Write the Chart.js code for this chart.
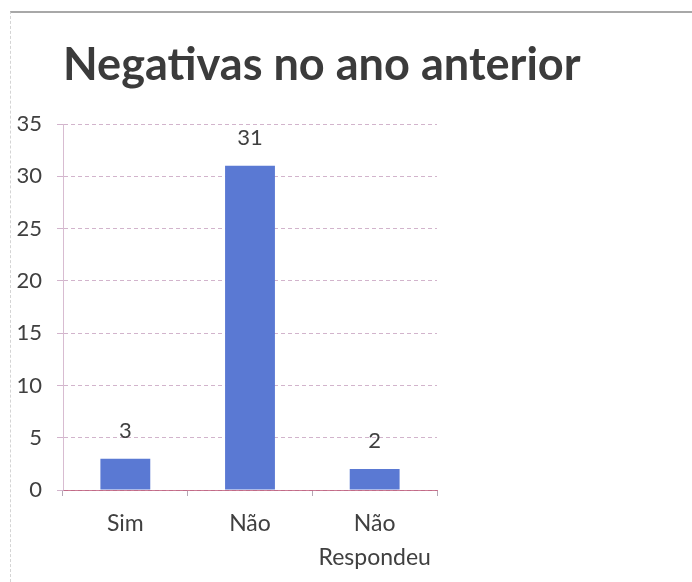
<!DOCTYPE html>
<html>
<head>
<meta charset="utf-8">
<title>Negativas no ano anterior</title>
<script src="https://cdn.jsdelivr.net/npm/chart.js@4"></script>
<style>
  html, body { margin: 0; padding: 0; background: #fff; }
  #wrap { position: relative; width: 692px; height: 582px; }
  #frame {
    position: absolute; left: 10px; top: 11px; right: 0; bottom: 0;
    border-top: 2px solid #a8a8a8;
    border-left: 1px dashed #d4d4d4;
  }
  canvas { position: absolute; left: 0; top: 0; }
</style>
</head>
<body>
<div id="wrap">
  <div id="frame"></div>
  <canvas id="chart" width="692" height="582"></canvas>
</div>
<script>
// chart data
const categories = ["Sim", "Não", ["Não", "Respondeu"]];
const values = [3, 31, 2];
const yTicks = [0, 5, 10, 15, 20, 25, 30, 35];

const titleText = "Negativas no ano anterior";
const fontFamily = "Lato, 'Open Sans', sans-serif";
const textColor = "#404040";
const gridColor = "rgba(180, 130, 170, 0.6)";

// title drawn at the left of the plot area, sized to the reference width
const chartTitle = {
  id: "chartTitle",
  afterDraw(chart) {
    const ctx = chart.ctx;
    ctx.save();
    ctx.font = "bold 100px " + fontFamily;
    const size = (518 / ctx.measureText(titleText).width) * 100;
    ctx.font = "bold " + size.toFixed(1) + "px " + fontFamily;
    ctx.fillStyle = "#3b3b3b";
    ctx.textAlign = "left";
    ctx.textBaseline = "alphabetic";
    ctx.fillText(titleText, chart.chartArea.left, 80);
    ctx.restore();
  },
};

// value labels above each bar
const valueLabels = {
  id: "valueLabels",
  afterDatasetsDraw(chart) {
    const ctx = chart.ctx;
    const meta = chart.getDatasetMeta(0);
    ctx.save();
    ctx.font = "22px " + fontFamily;
    ctx.fillStyle = textColor;
    ctx.textAlign = "center";
    ctx.textBaseline = "bottom";
    meta.data.forEach((bar, i) => {
      ctx.fillText(String(values[i]), bar.x, bar.y - 17);
    });
    ctx.restore();
  },
};

new Chart(document.getElementById("chart"), {
  type: "bar",
  data: {
    labels: categories,
    datasets: [
      {
        data: values,
        backgroundColor: "#5a79d3",
        borderWidth: 0,
        barPercentage: 0.4,
        categoryPercentage: 1,
      },
    ],
  },
  plugins: [chartTitle, valueLabels],
  options: {
    responsive: false,
    animation: false,
    layout: {
      padding: { top: 124, left: 10, right: 255, bottom: 0 },
    },
    plugins: {
      legend: { display: false },
      tooltip: { enabled: false },
      title: { display: false },
    },
    scales: {
      x: {
        afterFit: (scale) => { scale.height = 92; },
        border: { display: true, color: "rgba(190, 90, 120, 0.8)", width: 1 },
        grid: {
          offset: true,
          drawOnChartArea: false,
          drawTicks: true,
          tickLength: 6,
          color: "rgba(150, 130, 150, 0.7)",
        },
        ticks: {
          color: textColor,
          font: { family: fontFamily, size: 23, lineHeight: 1.5 },
          padding: 10,
          maxRotation: 0,
        },
      },
      y: {
        min: 0,
        max: 35,
        afterFit: (scale) => { scale.width = 53; },
        afterBuildTicks: (scale) => {
          scale.ticks = yTicks.map((v) => ({ value: v }));
        },
        border: { display: true, color: "rgba(200, 160, 190, 0.7)", width: 1, dash: [4, 3] },
        grid: {
          color: gridColor,
          lineWidth: 1,
          tickLength: 6,
          drawTicks: true,
        },
        ticks: {
          color: textColor,
          font: { family: fontFamily, size: 22 },
          padding: 15,
        },
      },
    },
  },
});
</script>
</body>
</html>
